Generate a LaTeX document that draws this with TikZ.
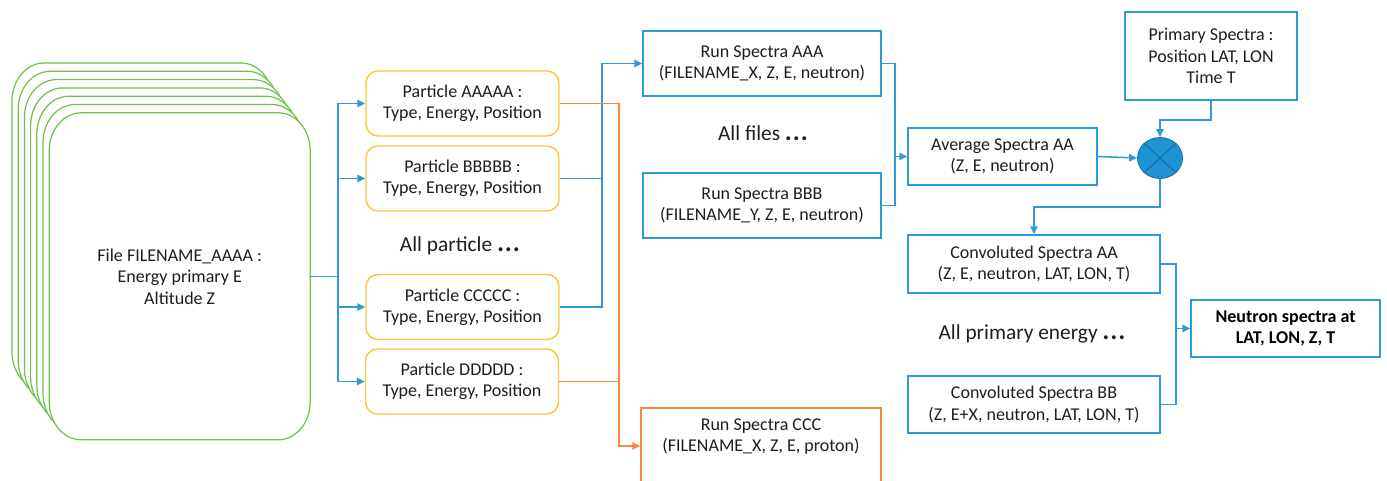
\documentclass[tikz,border=0pt]{standalone}
\usepackage{fontspec}
\setmainfont{Carlito}
\usetikzlibrary{arrows.meta,shapes.geometric,calc}
\definecolor{cblue}{HTML}{2E9BD6}
\definecolor{corange}{HTML}{F88A3C}
\definecolor{cgold}{HTML}{FFC43A}
\definecolor{cgreen}{HTML}{6CC24A}
\definecolor{cfill}{HTML}{1F93D4}
\definecolor{cdark}{HTML}{1570A6}
\definecolor{ctext}{HTML}{1E1E1E}
\newcommand{\bigdots}{{\fontsize{20}{20}\selectfont\bfseries .\hspace{0.6pt}.\hspace{0.6pt}.}}
\tikzset{
  every node/.style={font=\fontsize{13.5}{16}\selectfont, text=ctext, align=center, inner sep=0pt},
  card/.style={draw=cgreen, fill=white, line width=0.9pt},
  pbox/.style={draw=cgold, fill=white, line width=1.1pt, rounded corners=9pt, minimum width=144.75pt, minimum height=48.75pt},
  bbox/.style={draw=cblue, fill=white, line width=1.1pt},
  obox/.style={draw=corange, fill=white, line width=1.1pt},
  bline/.style={draw=cblue, line width=1.15pt},
  oline/.style={draw=corange, line width=1.15pt},
  barrow/.style={bline, -{Triangle[length=6pt,width=5.5pt]}},
  oarrow/.style={oline, -{Triangle[length=6pt,width=5.5pt]}},
  bigtext/.style={font=\fontsize{16}{19}\selectfont},
}
\begin{document}
\begin{tikzpicture}[x=0.75pt,y=-0.75pt]
\useasboundingbox (0,0) rectangle (1387,480);
\clip (0,0) rectangle (1387,480);
% stacked file cards
\foreach \i in {0,...,6}{
  \begin{scope}[shift={(6.2*\i,8.3*\i)}]
    \path[card] (44,63) -- (241,63) .. controls (258.7,63) and (273,80) .. (273,101)
      -- (273,352) .. controls (273,373) and (258.7,390) .. (241,390)
      -- (44,390) .. controls (26.3,390) and (12,373) .. (12,352)
      -- (12,101) .. controls (12,80) and (26.3,63) .. cycle;
  \end{scope}
}
\node[minimum width=195.75pt, minimum height=245.25pt] (file) at (179.7,276.5)
  {File FILENAME\_AAAA :\\Energy primary E\\Altitude Z};

% particles
\node[pbox] (pA) at (462.5,103.5) {Particle AAAAA :\\Type, Energy, Position};
\node[pbox] (pB) at (462.5,178.5) {Particle BBBBB :\\Type, Energy, Position};
\node[bigtext] (allp) at (460,246) {All particle \bigdots};
\node[pbox] (pC) at (462.5,307) {Particle CCCCC :\\Type, Energy, Position};
\node[pbox] (pD) at (462,381.5) {Particle DDDDD :\\Type, Energy, Position};

% run spectra
\node[bbox, minimum width=178.5pt, minimum height=48.75pt] (runA) at (762,63.5) {Run Spectra AAA\\(FILENAME\_X, Z, E, neutron)};
\node[bigtext] (allf) at (763,133) {All files \bigdots};
\node[bbox, minimum width=178.5pt, minimum height=48.75pt] (runB) at (762,205.5) {Run Spectra BBB\\(FILENAME\_Y, Z, E, neutron)};
\node[obox, minimum width=180pt, minimum height=57pt] (runC) at (761,446) {Run Spectra CCC\\(FILENAME\_X, Z, E, proton)\\\mbox{}};

% average, product, primary
\node[bbox, minimum width=141.75pt, minimum height=42.75pt] (avg) at (1002.5,156.5) {Average Spectra AA\\(Z, E, neutron)};
\node[ellipse, draw=cdark, fill=cfill, line width=0.6pt, minimum width=33.75pt, minimum height=30.75pt] (circ) at (1160,158) {};
\draw[cdark, line width=0.8pt] (circ.north west) -- (circ.south east) (circ.north east) -- (circ.south west);
\node[bbox, minimum width=129pt, minimum height=66pt] (prim) at (1211,56) {Primary Spectra :\\Position LAT, LON\\Time T};

% convoluted
\node[bbox, minimum width=189pt, minimum height=43.5pt] (convA) at (1034,264) {Convoluted Spectra AA\\(Z, E, neutron, LAT, LON, T)};
\node[bigtext] (allE) at (1032,334) {All primary energy \bigdots};
\node[bbox, minimum width=189pt, minimum height=43pt] (convB) at (1034,404.5) {Convoluted Spectra BB\\(Z, E+X, neutron, LAT, LON, T)};
\node[bbox, minimum width=141.75pt, minimum height=42.75pt, font=\fontsize{13.5}{16}\selectfont\bfseries, text=black] (neut) at (1285.5,328.5) {Neutron spectra at\\LAT, LON, Z, T};

% junction coordinates
\coordinate (j1) at (338,276.5);
\coordinate (j2) at (602,0);
\coordinate (j3) at (619,0);
\coordinate (j4) at (895,156.5);
\coordinate (j5) at (1176,328.5);

% file -> particles
\draw[bline] (file.east) -- (j1);
\foreach \p in {pA,pB,pC,pD}{
  \draw[barrow] (j1) |- (\p.west);
}
% particles B,C -> run A
\draw[bline] (pB.east) -- (j2 |- pB.east);
\draw[barrow] (pC.east) -| (j2 |- runA.west) -- (runA.west);
% particles A,D -> run C
\draw[oline] (pA.east) -- (j3 |- pA.east) -- (j3 |- pD.east);
\draw[oarrow] (pD.east) -| (j3 |- runC.west) -- (runC.west);
% runs -> average
\draw[bline] (runA.east) -| (j4) |- (runB.east);
\draw[barrow] (j4) -- (avg.west);
\draw[barrow] (avg.east) -- (circ.west);
\draw[barrow] (prim.south) -- ++(0,19) -| (circ.north);
\draw[barrow] (circ.south) -- ++(0,28) -| (convA.north);
% convoluted -> neutron
\draw[bline] (convA.east) -| (j5) |- (convB.east);
\draw[barrow] (j5) -- (neut.west);
\end{tikzpicture}
\end{document}
